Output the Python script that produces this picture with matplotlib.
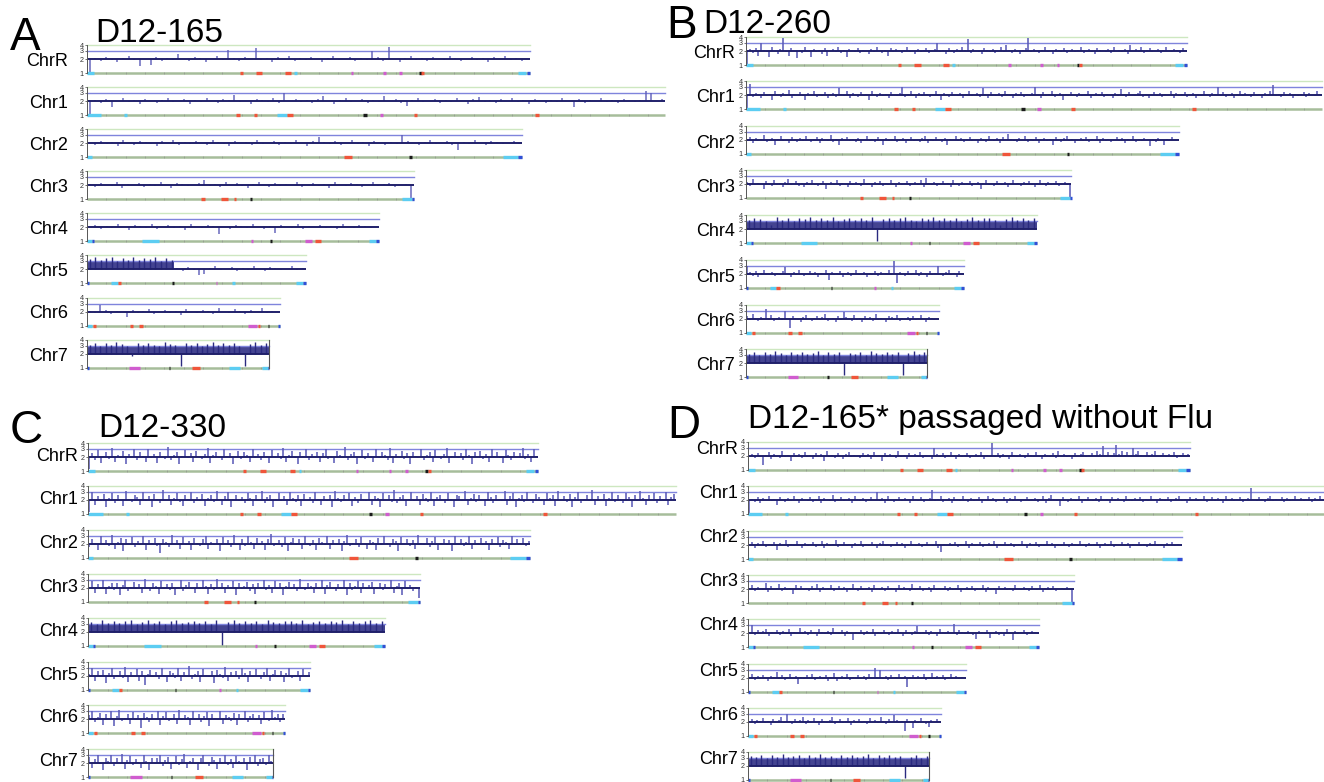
import numpy as np
import matplotlib.pyplot as plt

plt.rcParams['font.family'] = ['Liberation Sans', 'DejaVu Sans']

CHROMS = ["ChrR", "Chr1", "Chr2", "Chr3", "Chr4", "Chr5", "Chr6", "Chr7"]
CHROM_MB = [2.29, 2.99, 2.25, 1.69, 1.51, 1.13, 1.00, 0.94]

# copy number per bin, in tenths (20 = 2 copies)
A_CHRR = [10,21,18,22,19,17,21,23,19,14, 20,15,22,18,21,19,25,20,18,22, 21,17,20,23,19,32,21,18,22,20,
          34,19,21,17,22,20,23,18,21,19, 22,20,17,21,23,19,20,22,18,21, 19,30,22,18,37,20,17,21,23,19,
          21,18,22,20,19,23,21,18,20,22, 19,21,17,22,20,23,19,21,18,20]
A_CHR1 = [10,21,18,22,15,20,23,19,21,17, 22,20,18,21,23,19,20,22,17,21, 19,23,20,18,22,21,27,19,20,17,
          22,21,19,23,18,30,20,22,19,21, 18,22,25,20,17,21,23,19,20,22, 18,21,19,25,20,22,18,16,21,23,
          19,20,22,18,21,19,23,20,17,22, 24,19,21,18,22,20,23,19,21,17, 22,20,18,21,19,23,20,15,22,18,
          21,20,23,19,21,18,22,20,19,21, 33,29,20,22]
A_CHR2 = [20,18,22,19,21,17,23,20,18,22, 21,19,17,22,20,23,18,21,19,22, 20,18,23,21,19,17,22,20,21,18,
          23,19,20,22,18,21,19,23,20,17, 22,27,21,19,22,18,20,23,19,21, 17,22,20,18,21,19,30,22,20,18,
          21,23,19,20,22,18,14,21,19,23, 20,18,22,21,19,20,22,19]
A_CHR3 = [21,18,22,20,19,23,17,21,20,22, 18,21,19,23,20,17,22,21,19,20, 22,26,19,21,18,23,20,22,19,17,
          21,23,20,18,22,19,21,20,23,18, 20,22,19,21,17,23,20,19,22,21, 18,20,23,19,21,22,18,20,21,10]
A_CHR4 = [20,22,18,21,19,23,20,17,22,21, 19,23,18,20,22,19,21,17,23,20, 19,22,21,14,20,18,22,21,19,23,
          20,18,21,15,22,20,19,23,18,21, 20,22,19,21,18,23,20,19,22,21, 19,20]
A_CHR5 = [33,36,31,34,37,30,35,32,36,31, 34,33,37,30,35,32, 21,18,22,19, 15,16,21,23,19,20,22,18,21,19,
          23,20,18,22,21,19,20,23,19,21]
A_CHR6 = [21,19,28,22,18,21,20,16,22,19, 21,23,18,20,22,19,21,17,23,20, 19,22,21,18,24,20,19,23,21,18,
          22,20,24,19,21,20]
A_CHR7 = [32,35,30,34,31,36,33,30,18,34, 31,35,32,30,36,33,31,11,34,32, 35,30,33,37,31,34,32,35,30,11,
          33,36,31,34]

B_CHRR = [10,22,18,23,16,30,21,19,15,24,20,17,22,38,19,16,23,20,14,21,
          18,24,20,15,22,19,21,17,23,16,20,22,19,24,18,21,15,22,20,19,
          23,18,21,20,17,22,19,24,20,18,21,16,23,19,22,20,18,21,24,19,
          20,17,22,19,21,23,18,20,22,29,19,21,17,23,20,18,22,19,24,21,
          36,18,22,20,19,17,23,21,19,22,18,20,24,19,27,21,18,22,20,17,
          21,23,38,19,22,20,18,21,24,19,20,17,22,21,19,23,18,20,22,19,
          21,24,18,20,22,19,17,23,21,20,19,22,18,24,20,21,19,22,17,27,
          20,22,19,24,18,21,23,19,20,22,18,21,24,20,19,22,21,18,23,20]
B_CHR1 = [10,35,18,22,20,17,23,19,21,16,24,20,18,22,19,25,17,21,20,23,
          19,16,22,20,24,18,21,19,23,17,20,22,18,28,21,19,24,17,22,20,
          18,23,19,21,16,24,20,18,22,19,21,17,23,20,19,22,29,18,21,24,
          20,17,22,19,23,21,18,20,24,19,16,22,21,18,23,20,19,22,17,21,
          24,19,20,22,18,28,21,17,23,20,19,22,18,24,21,19,17,22,20,23,
          18,21,19,22,30,20,17,23,19,21,24,18,20,22,16,21,19,23,20,18,
          22,19,21,24,17,20,22,19,23,18,21,20,17,22,19,27,21,18,23,20,
          19,22,24,18,21,17,20,23,19,22,18,21,20,24,17,22,19,21,23,18,
          20,22,17,21,19,24,20,18,22,21,29,19,23,18,20,22,17,21,24,19,
          22,20,18,23,19,21,17,22,20,24,33,19,21,18,23,20,22,17,21,19,
          21,23,18,22,20,19,24,21]
B_CHR2 = [20,23,17,22,19,21,25,18,20,22,16,21,24,19,20,17,23,21,18,22,
          19,24,20,18,21,23,17,22,20,19,25,18,21,16,22,20,23,19,21,18,
          22,17,20,24,19,21,18,23,20,16,22,19,21,24,18,20,22,17,21,23,
          19,20,18,22,24,17,21,19,23,20,18,22,16,21,20,24,19,22,18,21,
          23,19,20,17,22,21,18,24,20,19,22,17,23,20,27,21,19,18,22,20,
          24,18,21,19,23,17,20,22,19,21,16,23,20,18,22,24,19,21,17,20,
          22,19,23,18,21,20,24,17,22,19,21,18,20,23,19,22,17,21,20,24,
          18,21,19,22,20,15,21,18,22,20,16,21,19,23,20,21]
B_CHR3 = [22,18,25,19,21,20,16,23,20,18,24,19,21,17,22,26,19,20,23,18,
          21,17,22,20,24,19,18,21,23,16,20,22,19,24,18,21,20,17,23,19,
          22,20,18,25,19,21,17,22,20,23,18,21,19,24,20,17,22,19,21,23,
          18,20,22,19,24,17,27,21,19,22,18,20,23,19,21,17,24,20,18,22,
          19,21,23,18,20,22,16,21,24,19,20,18,23,21,19,22,17,20,24,19,
          21,18,22,20,23,19,17,21,24,20,18,22,19,21,23,18,20,22,19,10]
B_CHR4 = [31,35,33,30,24,36,32,34,30,35, 33,37,31,34,32,36,30,33,35,31, 34,32,36,11,33,35,31,34,37,32,
          30,35,33,36,31,34,32,35,30,33, 36,31,34,35,32,24,33,36,31,34, 32,35]
B_CHR5 = [30,22,18,23,17,21,24,19,20,22,18,21,19,23,28,20,17,22,19,24,
          21,18,20,23,19,22,17,21,20,24,15,22,19,21,23,17,20,22,18,21,
          24,19,20,22,17,21,19,23,18,22,20,21,24,19,38,13,22,20,18,23,
          19,21,24,18,22,20,17,23,19,21,30,20,18,22,24,19,21,17,23,20]
B_CHR6 = [23,19,25,21,18,22,20,33,19,24,18,21,22,19,30,20,13,23,21,19,
          17,22,24,20,18,21,23,19,22,25,18,20,21,17,23,19,28,22,20,18,
          24,19,21,17,23,20,22,18,25,19,21,20,17,23,22,19,24,18,21,20,
          22,18,23,19,21,24,20,17,22,21,19,20]
B_CHR7 = [32,35,30,34,31,36,33,30,34,32, 35,31,33,36,30,34,32,35,11,33, 31,34,30,36,33,32,35,31,34,11,
          33,36,32,34]

C_CHRR = [11,24,17,28,15,21,26,18,31,16,22,19,27,14,23,20,29,17,25,21,
          16,30,19,23,15,26,20,18,33,17,22,25,14,21,28,19,24,16,27,20,
          18,23,31,15,22,26,19,17,29,21,24,14,20,27,18,25,22,16,30,19,
          23,17,26,21,15,28,20,24,18,32,16,22,27,19,14,25,21,29,17,23,
          20,26,16,24,30,18,21,15,27,22,19,33,17,23,25,14,20,28,18,24,
          21,16,29,19,25,22,17,31,15,23,20,27,18,24,14,26,21,19,30,17,
          22,25,16,28,20,18,23,32,15,21,26,19,24,17,29,22,14,25,20,27,
          18,23,16,30,21,25,19,15,28,22,17,26,20,24,31,18,23,16,29,21]
C_CHR1 = [11,30,16,24,19,27,14,22,28,17,25,20,15,31,21,18,26,23,16,29,
          19,24,14,27,21,17,33,20,25,16,22,28,18,15,26,21,30,17,23,19,
          27,15,22,25,18,31,20,16,24,29,14,21,26,19,23,17,28,22,15,25,
          20,32,17,23,26,14,21,28,19,24,16,30,22,18,25,15,27,20,23,17,
          29,21,16,24,19,26,14,31,22,18,25,20,28,15,23,17,27,21,19,30,
          16,24,22,14,28,20,25,18,33,17,23,26,15,21,29,19,24,16,27,22,
          18,30,15,23,25,20,17,28,21,14,26,24,19,31,16,22,27,18,25,20,
          15,29,23,17,26,21,19,32,16,24,28,14,22,25,18,30,20,17,27,23,
          19,16,28,22,25,15,31,20,24,18,27,14,23,29,17,21,26,19,33,16,
          24,20,27,15,22,30,18,25,21,17,28,23,14,26,19,31,22,16,25,20,
          28,17,24,21,30,16,23,27]
C_CHR2 = [17,26,21,15,29,19,24,18,31,16,22,27,14,25,20,28,17,23,19,30,
          15,24,21,27,18,13,26,22,17,32,20,24,16,28,19,23,15,27,21,18,
          25,30,16,22,19,26,14,28,21,24,17,31,20,15,25,18,29,22,16,27,
          20,23,15,26,33,18,21,24,17,28,14,22,27,19,25,16,30,21,18,24,
          15,27,22,19,29,16,24,20,26,14,23,31,18,21,25,17,28,20,16,24,
          22,15,27,19,30,21,17,25,23,14,28,20,26,18,24,16,32,21,19,27,
          17,23,28,15,21,26,19,24,14,29,20,25,18,22,30,16,24,21,27,19,
          23,15,26,20,28,17,24,22,16,29,19,25,21,27,18,23]
C_CHR3 = [20,28,16,24,19,30,15,22,26,18,25,14,23,29,17,21,27,19,24,16,
          31,20,17,25,22,15,28,19,24,18,26,14,21,30,17,23,27,20,16,25,
          19,29,22,15,24,18,32,20,26,16,23,21,28,14,25,19,22,27,17,24,
          15,26,21,30,18,23,16,28,20,25,14,22,27,19,24,17,31,21,18,26,
          22,16,25,19,29,15,23,27,20,17,24,21,30,14,26,18,22,28,16,25,
          19,23,27,15,21,26,18,24,20,29,16,22,25,14,28,19,23,17,21,12]
C_CHR4 = [33,30,36,32,35,31,34,37,30,33, 36,32,35,30,34,36,31,33,35,32, 34,30,36,10,33,37,31,35,32,34,
          30,36,33,31,35,34,32,37,30,33, 35,31,34,33,36,30,35,32,34,37, 31,34]
C_CHR5 = [22,30,16,25,19,27,14,23,29,17,21,26,18,32,15,24,20,28,16,25,
          13,22,27,19,24,17,30,21,15,26,23,18,29,16,24,20,33,17,22,26,
          15,28,21,19,25,14,27,22,18,31,16,24,20,26,17,29,23,15,25,19,
          28,21,17,24,30,16,22,27,19,25,15,23,29,18,21,26,16,28,20,24]
C_CHR6 = [24,30,17,22,27,15,25,20,29,14,23,31,18,21,26,16,28,19,24,13,
          27,22,17,25,20,30,15,23,28,18,21,26,16,32,19,24,22,15,29,20,
          25,17,23,28,14,26,21,19,30,16,24,22,18,27,15,25,20,29,17,23,
          26,19,24,16,28,21,18,31,22,25,17,26]
C_CHR7 = [27,16,24,30,19,14,26,22,29,17,25,20,31,15,23,28,18,24,21,16,
          29,22,14,26,19,25,30,17,23,27,15,21,28,18,24,32,16,22,26,19,
          14,25,29,20,17,27,23,15,26,21,30,18,24,16,28,22,19,25,14,27,
          21,29,17,24,26,18,30,22]

D_CHRR = [20,22,18,23,19,13,21,24,17,22,20,18,25,19,21,16,23,20,22,18,
          24,19,21,17,23,20,22,16,25,19,21,18,23,20,17,22,24,19,21,20,
          18,23,19,22,17,24,20,21,16,23,19,22,20,18,25,19,21,17,23,20,
          22,19,24,18,21,20,17,30,22,19,23,18,21,24,20,17,22,19,21,23,
          18,20,22,19,24,17,21,20,38,19,23,18,22,20,17,24,21,19,22,20,
          18,23,21,19,24,20,17,22,21,19,23,18,25,20,22,19,21,17,23,20,
          22,24,19,21,23,20,26,22,33,21,24,20,23,35,22,25,21,24,20,29,
          22,26,21,20,24,19,22,25,20,21,23,19,22,20,24,18,21,23,20,22]
D_CHR1 = [10,21,18,23,17,22,20,24,19,21,16,23,20,18,22,19,24,21,17,22,
          20,19,23,18,21,24,17,22,20,19,25,18,21,23,19,20,22,17,24,21,
          19,22,18,21,23,20,30,19,22,17,24,20,18,21,23,19,22,20,17,24,
          21,19,23,18,20,22,33,19,21,24,18,20,22,17,23,21,19,24,20,18,
          22,19,21,23,17,20,24,19,22,18,21,20,23,17,22,19,24,21,18,20,
          23,19,21,22,18,20,24,17,22,25,21,19,15,23,20,18,22,21,19,24,
          17,21,23,20,19,22,18,24,20,21,17,23,19,22,20,18,24,21,19,22,
          20,23,18,21,19,24,20,17,22,21,19,23,18,20,22,24,19,21,17,23,
          20,22,19,21,24,18,20,23,19,22,21,17,24,20,22,19,21,23,18,20,
          22,36,20,19,23,21,18,22,24,19,21,20,23,18,22,19,21,24,20,22,
          19,21,23,18,22,20,24,21]
D_CHR2 = [19,23,17,22,20,24,18,21,19,23,16,22,20,25,18,21,19,24,20,17,
          22,19,21,23,18,20,24,17,22,19,21,26,18,20,23,19,21,17,22,20,
          24,18,21,19,23,20,17,22,24,19,21,18,20,23,19,22,17,21,24,20,
          19,22,18,21,23,20,19,24,17,14,21,20,22,19,23,18,21,20,24,17,
          22,19,21,23,18,20,22,19,24,17,21,20,23,19,22,18,20,21,24,19,
          17,22,20,23,18,21,19,24,20,22,17,21,19,23,20,18,22,21,19,24,
          20,18,22,19,21,23,17,20,22,19,24,18,21,20,23,19,22,17,21,20,
          23,19,21,18,22,20,24,19,21,17,22,20,23,19,21,20]
D_CHR3 = [21,24,18,22,20,19,27,17,23,20,21,25,18,22,19,21,16,24,20,23,
          19,21,18,23,20,25,17,22,19,21,24,18,20,23,19,22,17,21,26,20,
          18,23,19,21,22,17,24,20,19,22,18,23,21,20,17,24,19,22,20,18,
          25,19,21,23,18,20,22,17,24,19,21,20,23,18,22,19,21,24,17,20,
          22,19,23,18,21,20,24,17,22,19,21,16,23,20,22,19,21,18,24,20,
          19,22,21,18,23,20,19,24,17,21,22,19,23,18,20,21,19,22,20,10]
D_CHR4 = [21,30,18,23,19,22,24,17,21,20,23,18,22,19,24,17,21,20,25,19,
          22,18,23,20,17,24,21,19,22,18,25,20,19,23,17,22,20,14,21,19,
          23,18,22,20,24,17,21,19,23,20,18,22,19,24,21,17,23,20,18,22,
          28,19,21,23,18,22,20,17,24,21,19,22,20,32,18,23,21,19,22,20,
          18,15,22,21,19,23,16,20,22,18,21,17,24,20,14,22,19,21,23,18,
          20,22,21,19]
D_CHR5 = [21,24,18,22,19,23,20,17,22,21,27,19,23,18,21,24,20,22,15,21,
          19,23,20,24,18,21,22,19,23,17,21,25,17,20,22,19,24,18,21,20,
          23,19,22,18,24,20,33,21,30,19,22,18,23,20,21,24,19,22,13,21,
          23,19,22,20,24,18,21,25,19,22,20,23,18,21,24,20,22,19,21,20]
D_CHR6 = [20,23,18,22,21,24,19,21,17,23,20,22,26,19,30,21,18,23,20,22,
          25,18,22,19,24,20,17,23,21,19,22,25,18,20,23,19,21,24,17,22,
          20,23,19,21,18,24,20,22,19,25,21,18,23,20,28,22,19,21,13,23,
          20,15,22,19,24,21,18,16,22,20,23,21]
D_CHR7 = [33,31,35,30,34,32,36,31,33,35, 30,34,32,36,31,33,30,35,32,34, 31,33,36,30,34,32,35,31,33,11,
          32,34,30,33]

SIGNAL = {
    "A": [A_CHRR, A_CHR1, A_CHR2, A_CHR3, A_CHR4, A_CHR5, A_CHR6, A_CHR7],
    "B": [B_CHRR, B_CHR1, B_CHR2, B_CHR3, B_CHR4, B_CHR5, B_CHR6, B_CHR7],
    "C": [C_CHRR, C_CHR1, C_CHR2, C_CHR3, C_CHR4, C_CHR5, C_CHR6, C_CHR7],
    "D": [D_CHRR, D_CHR1, D_CHR2, D_CHR3, D_CHR4, D_CHR5, D_CHR6, D_CHR7],
}

# whole-segment gains (start fraction, end fraction, copy level)
GAINS = {
    ("A", "Chr5"): [(0.0, 0.40, 2.85)],
    ("A", "Chr7"): [(0.0, 1.0, 2.85)],
    ("B", "Chr4"): [(0.0, 1.0, 2.9)],
    ("B", "Chr7"): [(0.0, 1.0, 2.85)],
    ("C", "Chr4"): [(0.0, 1.0, 2.9)],
    ("D", "Chr7"): [(0.0, 1.0, 2.85)],
}

# chromosome annotations along the bottom line (start, end fraction, kind)
FEATURES = {
    "ChrR": [(0, .016, "c"), (.345, .352, "r"), (.382, .396, "r"), (.448, .461, "r"), (.468, .474, "c"),
             (.595, .6, "m"), (.668, .673, "m"), (.705, .71, "m"), (.75, .755, "k"), (.755, .762, "r"),
             (.973, .992, "c"), (.993, 1, "b")],
    "Chr1": [(0, .025, "c"), (.064, .068, "c"), (.258, .262, "r"), (.288, .294, "r"), (.328, .345, "c"),
             (.346, .356, "r"), (.478, .484, "k"), (.506, .512, "m"), (.565, .57, "r"), (.775, .78, "r")],
    "Chr2": [(0, .012, "c"), (.59, .61, "r"), (.74, .745, "k"), (.955, .99, "c"), (.99, 1, "b")],
    "Chr3": [(.35, .36, "r"), (.41, .43, "r"), (.45, .455, "r"), (.5, .506, "k"), (.965, .995, "c"), (.995, 1, "b")],
    "Chr4": [(0, .017, "c"), (.017, .025, "b"), (.19, .245, "c"), (.563, .57, "m"), (.628, .634, "k"),
             (.746, .77, "m"), (.78, .80, "r"), (.965, .99, "c"), (.99, 1, "b")],
    "Chr5": [(0, .01, "b"), (.11, .14, "c"), (.14, .155, "r"), (.39, .396, "k"), (.59, .597, "m"),
             (.665, .675, "c"), (.955, .99, "c"), (.99, 1, "b")],
    "Chr6": [(0, .025, "c"), (.03, .045, "r"), (.22, .24, "r"), (.27, .29, "r"), (.835, .88, "m"),
             (.885, .895, "r"), (.935, .942, "k"), (.99, 1, "b")],
    "Chr7": [(0, .01, "b"), (.23, .29, "m"), (.45, .457, "k"), (.58, .62, "r"), (.78, .84, "c"),
             (.965, .995, "c"), (.995, 1, "b")],
}
FEAT_COL = {"c": "#5ccdf2", "r": "#f0553a", "m": "#d05ccf", "k": "#1a1a1a", "b": "#2f4fd8"}

PANELS = {
    # letter: title, track left px, px per Mb, bottom-line px per chromosome, label right px, label offset,
    #         letter pos, title pos
    "A": ("D12-165", 87, 193.4, [73, 115, 157, 199, 241, 283, 326, 368], 68, 12, (10, 50), (95, 42)),
    "B": ("D12-260", 746, 192.5, [65, 109, 154, 198, 243, 288, 333, 377], 735, 11, (666, 38), (703, 33)),
    "C": ("D12-330", 88, 196.5, [471, 514, 558, 602, 646, 690, 733, 777], 78, 15, (10, 443), (98, 437)),
    "D": ("D12-165* passaged without Flu", 748, 192.8, [470, 514, 559, 603, 647, 692, 736, 780], 738, 21,
          (667, 438), (748, 428)),
}

W, H = 1324, 782
PPO = 14.0
YLO, YHI = 0.93, 4.35

fig = plt.figure(figsize=(W / 100, H / 100), dpi=100)


def draw_track(panel, ci, left, scale, bottom):
    name = CHROMS[ci]
    L = CHROM_MB[ci]
    vals = np.array(SIGNAL[panel][ci]) / 10.0
    w = L * scale
    h = (np.log2(YHI) - np.log2(YLO)) * PPO
    top = bottom - np.log2(YHI) * PPO
    ax = fig.add_axes([left / W, 1 - (top + h) / H, w / W, h / H])
    ax.set_yscale('log', base=2)
    ax.set_xlim(0, L)
    ax.set_ylim(YLO, YHI)
    ax.patch.set_alpha(0)

    ax.plot([0, L], [4, 4], color="#cde7c0", lw=1.0, clip_on=False)
    ax.plot([0, L], [3, 3], color="#7f84dc", lw=1.0, clip_on=False)

    n = len(vals)
    x = (np.arange(n) + 0.5) / n * L
    frac = x / L
    gain_mask = np.zeros(n, bool)
    for s, e, lev in GAINS.get((panel, name), []):
        ax.fill_between([s * L, e * L], 2, lev, color="#2a2a82", alpha=0.88, lw=0)
        gain_mask |= (frac >= s) & (frac <= e)

    lw = 1.2 if w / n > 4.5 else 1.35
    ax.vlines(x[~gain_mask], 2, vals[~gain_mask], color="#5c5cb8", lw=lw, alpha=0.85)
    ax.vlines(x[gain_mask], 2, vals[gain_mask], color="#2a2a80", lw=1.0)
    ax.plot([0, L], [2, 2], color="#20206a", lw=1.4)

    ax.plot([0, L], [1, 1], color="#a6bd9b", lw=1.8, solid_capstyle="butt", clip_on=False)
    ticks = np.arange(0.1, L, 0.1)
    ax.plot(ticks, np.ones_like(ticks), "|", ms=1.6, mew=0.4, color="#8a8a8a", clip_on=False)
    for s, e, k in FEATURES[name]:
        e = max(e, s + 0.006)
        ax.plot([s * L, e * L], [1, 1], color=FEAT_COL[k], lw=2.4, solid_capstyle="butt", clip_on=False)

    if name == "Chr7":
        ax.plot([L, L], [1, 4], color="#555555", lw=0.8, clip_on=False)

    for sp in ["top", "right", "bottom"]:
        ax.spines[sp].set_visible(False)
    ax.spines["left"].set_bounds(1, 4)
    ax.spines["left"].set_color("#555555")
    ax.spines["left"].set_linewidth(0.7)
    ax.set_xticks([])
    ax.set_yticks([1, 2, 3, 4])
    ax.set_yticklabels(["1", "2", "3", "4"])
    ax.yaxis.set_minor_locator(plt.NullLocator())
    ax.tick_params(axis="y", length=1.5, width=0.5, pad=1, labelsize=5.2, colors="#333333")


for letter, (title, left, scale, bottoms, lab_x, lab_off, let_pos, tit_pos) in PANELS.items():
    for ci, bottom in enumerate(bottoms):
        draw_track(letter, ci, left, scale, bottom)
        fig.text(lab_x / W, 1 - (bottom - lab_off) / H, CHROMS[ci], ha="right", va="center", fontsize=13)
    fig.text(let_pos[0] / W, 1 - let_pos[1] / H, letter, fontsize=33, va="baseline", ha="left")
    fig.text(tit_pos[0] / W, 1 - tit_pos[1] / H, title, fontsize=24, va="baseline", ha="left")

fig.savefig("out.png", dpi=100)
